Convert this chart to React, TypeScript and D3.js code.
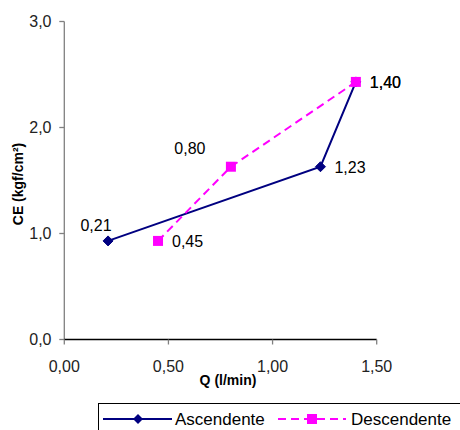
import React from "react";
import * as d3 from "d3";

const seriesNames = ["Ascendente", "Descendente"];
const ascQ = [0.21, 1.23, 1.4];
const ascCE = [0.93, 1.63, 2.43];
const descQ = [0.45, 0.8, 1.4];
const descCE = [0.93, 1.63, 2.43];
const xTicks = [0, 0.5, 1.0, 1.5];
const yTicks = [0, 1, 2, 3];

// label placement offsets (pixels relative to marker)
const ascLabelOffsets: [number, number, string][] = [
  [-12, -10, "middle"],
  [14, 6, "start"],
  [14, 6, "start"],
];
const descLabelOffsets: [number, number, string][] = [
  [14, 6, "start"],
  [-41, -13, "middle"],
  [14, 6, "start"],
];

const W = 460;
const H = 430;
const fmt2 = (v: number) => d3.format(".2f")(v).replace(".", ",");
const fmt1 = (v: number) => d3.format(".1f")(v).replace(".", ",");

export default function App() {
  const x = d3.scaleLinear().domain([0, 1.5]).range([64.3, 376.7]);
  const y = d3.scaleLinear().domain([0, 3]).range([339.5, 21.5]);
  const line = d3
    .line<[number, number]>()
    .x((d) => x(d[0]))
    .y((d) => y(d[1]));
  const asc: [number, number][] = ascQ.map((q, i) => [q, ascCE[i]]);
  const desc: [number, number][] = descQ.map((q, i) => [q, descCE[i]]);
  const navy = "#000080";
  const mag = "#FF00FF";
  const tickFont = "'Liberation Sans Narrow', 'Arial Narrow', Arial, sans-serif";
  const font = "Arial, 'Liberation Sans', sans-serif";
  const diamond = (cx: number, cy: number, r: number) =>
    `M${cx},${cy - r}L${cx + r},${cy}L${cx},${cy + r}L${cx - r},${cy}Z`;

  return (
    <svg
      width={W}
      height={H}
      style={{ position: "absolute", left: 0, top: 0, background: "#fff" }}
    >
      <rect width={W} height={H} fill="#fff" />
      {/* y axis */}
      <line x1={x(0)} x2={x(0)} y1={y(3)} y2={y(0)} stroke="#808080" strokeWidth={1.3} />
      {yTicks.map((t) => (
        <g key={"y" + t}>
          <line x1={x(0) - 5} x2={x(0)} y1={y(t)} y2={y(t)} stroke="#808080" strokeWidth={1.3} />
          <text
            x={51.5}
            y={y(t)}
            dy="0.36em"
            textAnchor="end"
            fontFamily={tickFont}
            fontSize={16}
            fill="#222"
          >
            {fmt1(t)}
          </text>
        </g>
      ))}
      {/* x axis */}
      <line x1={x(0)} x2={x(1.5)} y1={y(0)} y2={y(0)} stroke="#000" strokeWidth={1.3} />
      {xTicks.map((t) => (
        <g key={"x" + t}>
          <line x1={x(t)} x2={x(t)} y1={y(0)} y2={y(0) + 5} stroke="#808080" strokeWidth={1.3} />
          <text
            x={x(t)}
            y={371.5}
            textAnchor="middle"
            fontFamily={tickFont}
            fontSize={16}
            fill="#222"
          >
            {fmt2(t)}
          </text>
        </g>
      ))}
      {/* axis titles */}
      <text
        x={228}
        y={385}
        textAnchor="middle"
        fontFamily={font}
        fontWeight="bold"
        fontSize={14}
      >
        Q (l/min)
      </text>
      <text
        transform={`translate(23,${184}) rotate(-90)`}
        textAnchor="middle"
        fontFamily={font}
        fontWeight="bold"
        fontSize={14}
      >
        CE (kgf/cm²)
      </text>

      {/* series */}
      <path d={line(asc) || ""} fill="none" stroke={navy} strokeWidth={2} />
      <path
        d={line(desc) || ""}
        fill="none"
        stroke={mag}
        strokeWidth={2}
        strokeDasharray="8,5"
      />
      {asc.map((d, i) => (
        <path key={"am" + i} d={diamond(x(d[0]), y(d[1]), 5)} fill={navy} stroke={navy} strokeWidth={1} />
      ))}
      {desc.map((d, i) => (
        <rect key={"dm" + i} x={x(d[0]) - 5} y={y(d[1]) - 5} width={10} height={10} fill={mag} />
      ))}

      {/* data labels */}
      {asc.map((d, i) => (
        <text
          key={"al" + i}
          x={x(d[0]) + ascLabelOffsets[i][0]}
          y={y(d[1]) + ascLabelOffsets[i][1]}
          textAnchor={ascLabelOffsets[i][2] as any}
          fontFamily={font}
          fontSize={16}
          fill="#000"
        >
          {fmt2(d[0])}
        </text>
      ))}
      {desc.map((d, i) => (
        <text
          key={"dl" + i}
          x={x(d[0]) + descLabelOffsets[i][0]}
          y={y(d[1]) + descLabelOffsets[i][1]}
          textAnchor={descLabelOffsets[i][2] as any}
          fontFamily={font}
          fontSize={16}
          fill="#000"
        >
          {fmt2(d[0])}
        </text>
      ))}

      {/* legend */}
      <rect x={98.5} y={403.5} width={400} height={60} fill="#fff" stroke="#000" strokeWidth={1} />
      <line x1={103} x2={172} y1={419} y2={419} stroke={navy} strokeWidth={2} />
      <path d={diamond(138, 419, 5)} fill={navy} />
      <text x={175} y={425} fontFamily={font} fontSize={17} fill="#000">
        {seriesNames[0]}
      </text>
      <line x1={278} x2={346} y1={419} y2={419} stroke={mag} strokeWidth={2} strokeDasharray="8,5" />
      <rect x={307} y={414} width={10} height={10} fill={mag} />
      <text x={351} y={425} fontFamily={font} fontSize={17} fill="#000">
        {seriesNames[1]}
      </text>
    </svg>
  );
}
